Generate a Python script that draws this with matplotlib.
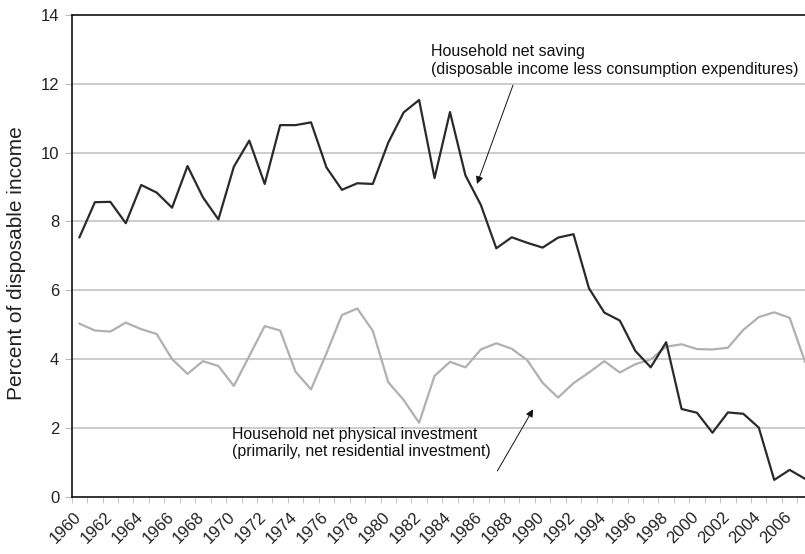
import numpy as np
import matplotlib.pyplot as plt
import matplotlib.transforms as mtransforms

plt.rcParams['font.family'] = ['Liberation Sans', 'DejaVu Sans']

# years 1960-2007
years = list(range(1960, 2008))

# household net saving, % of disposable income
net_saving = [7.54, 8.56, 8.57, 7.95, 9.06, 8.84, 8.40, 9.61, 8.70, 8.06,
              9.59, 10.35, 9.09, 10.80, 10.80, 10.88, 9.57, 8.92, 9.11, 9.09,
              10.29, 11.17, 11.53, 9.26, 11.18, 9.34, 8.48, 7.22, 7.54, 7.38,
              7.24, 7.53, 7.63, 6.06, 5.35, 5.12, 4.24, 3.76, 4.49, 2.55,
              2.44, 1.86, 2.45, 2.41, 2.01, 0.49, 0.78, 0.52]

# household net physical investment, % of disposable income
net_investment = [5.03, 4.83, 4.80, 5.06, 4.87, 4.73, 4.00, 3.57, 3.94, 3.80,
                  3.22, 4.09, 4.96, 4.83, 3.63, 3.12, 4.17, 5.28, 5.47, 4.82,
                  3.33, 2.81, 2.15, 3.51, 3.92, 3.76, 4.28, 4.46, 4.30, 3.97,
                  3.31, 2.88, 3.30, 3.61, 3.94, 3.61, 3.85, 3.99, 4.36, 4.43,
                  4.29, 4.28, 4.33, 4.85, 5.22, 5.36, 5.20, 3.92]

fig = plt.figure(figsize=(8.05, 5.54), dpi=100)
ax = fig.add_axes([0.0891, 0.1034, 0.9206, 0.8695])

ax.plot(years, net_investment, color='#b0b0b0', linewidth=1.6, zorder=3)
ax.plot(years, net_saving, color='#2a2a2a', linewidth=1.6, zorder=4)

ax.set_xlim(1959.5, 2007.5)
ax.set_ylim(0, 14)

# y axis
ax.set_yticks(np.arange(0, 15, 2))
ax.tick_params(axis='y', length=5, color='#bbbbbb', labelsize=12, labelcolor='#222222', pad=4)
for g in range(2, 13, 2):
    ax.axhline(g, color='#c8c8c8', linewidth=1.3, zorder=1)
ax.set_ylabel('Percent of disposable income', fontsize=15, color='#222222')
ax.yaxis.set_label_coords(-0.062, 0.484)

# x axis: labels at year centres, small tick marks at year boundaries
ax.set_xticks(years[::2])
ax.set_xticklabels([str(y) for y in years[::2]], rotation=45, ha='right', va='top',
                   rotation_mode='anchor', fontsize=12, color='#222222')
ax.tick_params(axis='x', which='major', length=0, pad=9)
ax.set_xticks(np.arange(1959.5, 2008, 1), minor=True)
ax.tick_params(axis='x', which='minor', length=4, color='#bbbbbb')
shift = mtransforms.ScaledTranslation(-6 / 100, 0, fig.dpi_scale_trans)
for lab in ax.get_xticklabels():
    lab.set_transform(lab.get_transform() + shift)

for s in ['left', 'bottom', 'top']:
    ax.spines[s].set_color('#111111')
    ax.spines[s].set_linewidth(1.2)
ax.spines['right'].set_visible(False)

# annotations
ax.text(1982.75, 13.15, 'Household net saving\n(disposable income less consumption expenditures)',
        fontsize=11.5, color='#111111', ha='left', va='top', linespacing=1.2)
ax.annotate('', xy=(1985.75, 9.09), xytext=(1988.08, 11.96),
            arrowprops=dict(arrowstyle='-|>', color='#111111', lw=0.7,
                            mutation_scale=11, shrinkA=0, shrinkB=0))

ax.text(1969.9, 2.03, 'Household net physical investment\n(primarily, net residential investment)',
        fontsize=11.4, color='#111111', ha='left', va='top', linespacing=1.2)
ax.annotate('', xy=(1989.38, 2.54), xytext=(1987.07, 0.75),
            arrowprops=dict(arrowstyle='-|>', color='#111111', lw=0.7,
                            mutation_scale=11, shrinkA=0, shrinkB=0))

fig.savefig('out.png', dpi=100)
